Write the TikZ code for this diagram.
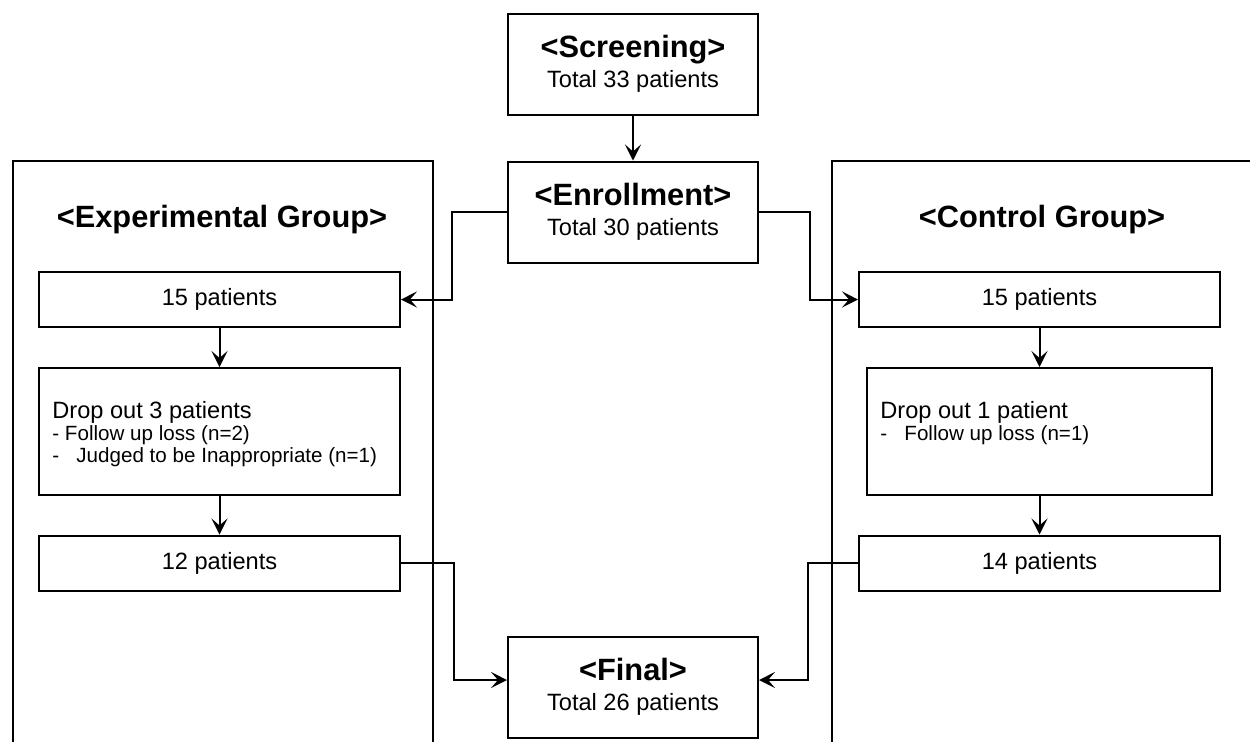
\documentclass[tikz,border=0pt]{standalone}
\usepackage{fontspec}
\setmainfont{Liberation Sans}
\usetikzlibrary{arrows.meta}

\begin{document}
\begin{tikzpicture}[x=0.5pt, y=-0.5pt,
    stagebox/.style={draw, line width=1pt, minimum width=125pt, minimum height=50.5pt,
                     inner sep=0pt, align=center, font=\fontsize{11.8}{15}\selectfont},
    groupbox/.style={draw, line width=1pt, minimum width=180.5pt, minimum height=27.5pt,
                     inner sep=0pt, font=\fontsize{11.8}{14}\selectfont},
    dropbox/.style={draw, line width=1pt, minimum height=63.5pt, inner sep=0pt},
    grouptitle/.style={font=\bfseries\fontsize{15.4}{18}\selectfont, inner sep=0pt},
    droptitle/.style={font=\fontsize{11.8}{14}\selectfont, inner sep=0pt, anchor=base west},
    dropline/.style={font=\fontsize{10.3}{12}\selectfont, inner sep=0pt, anchor=base west},
    arr/.style={-{Stealth[length=8pt,width=8pt,inset=3.5pt]}, line width=1pt}]

    \clip (0,0) rectangle (1250,741);
    \fill[white] (0,0) rectangle (1250,741);

    % group frames (run off the page)
    \draw[line width=1pt] (13,161) rectangle (433,800);
    \draw[line width=1pt] (832,161) rectangle (1300,800);

    \node[grouptitle, anchor=base] (expTitle) at (222,227) {<Experimental Group>};
    \node[grouptitle, anchor=base] (ctlTitle) at (1042,227) {<Control Group>};

    % centre column
    \node[stagebox] (screen) at (633,64)
        {{\bfseries\fontsize{15.4}{15}\selectfont <Screening>}\\Total 33 patients};
    \node[stagebox] (enroll) at (633,212)
        {{\bfseries\fontsize{15.4}{15}\selectfont <Enrollment>}\\Total 30 patients};
    \node[stagebox] (final) at (633,687)
        {{\bfseries\fontsize{15.4}{15}\selectfont <Final>}\\Total 26 patients};

    % experimental group
    \node[groupbox] (expA) at (219.5,299.5) {15 patients};
    \node[dropbox, minimum width=180.5pt] (expB) at (219.5,431.5) {};
    \node[groupbox] (expC) at (219.5,563) {12 patients};
    \node[droptitle] (expB1) at (52,418) {Drop out 3 patients};
    \node[dropline] (expB2) at (52,440) {- Follow up loss (n=2)};
    \node[dropline] (expB3) at (52,462) {-\hspace{8.6pt}Judged to be Inappropriate (n=1)};

    % control group
    \node[groupbox] (ctlA) at (1039.5,299.5) {15 patients};
    \node[dropbox, minimum width=172.5pt] (ctlB) at (1039.5,431.5) {};
    \node[groupbox] (ctlC) at (1039.5,563) {14 patients};
    \node[droptitle] (ctlB1) at (880,418) {Drop out 1 patient};
    \node[dropline] (ctlB2) at (880,440) {-\hspace{8.6pt}Follow up loss (n=1)};

    % connectors
    \draw[arr] (screen) -- (enroll);
    \draw[arr] (enroll.west) -- ++(-55,0) |- (expA.east);
    \draw[arr] (enroll.east) -- ++(51,0) |- (ctlA.west);
    \draw[arr] (expA) -- (expB);
    \draw[arr] (expB) -- (expC);
    \draw[arr] (ctlA) -- (ctlB);
    \draw[arr] (ctlB) -- (ctlC);
    \draw[arr] (expC.east) -- ++(53,0) |- ([yshift=3.5pt]final.west);
    \draw[arr] (ctlC.west) -- ++(-50,0) |- ([yshift=3.5pt]final.east);

\end{tikzpicture}
\end{document}
